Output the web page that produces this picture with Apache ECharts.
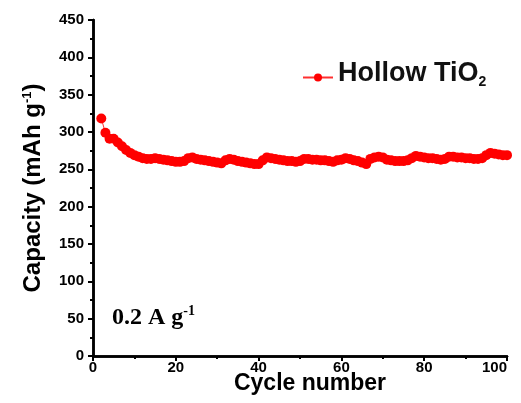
<!DOCTYPE html>
<html><head><meta charset="utf-8">
<script src="https://cdn.jsdelivr.net/npm/echarts@6/dist/echarts.min.js"></script>
<style>html,body{margin:0;padding:0;background:#fff}#c{width:521px;height:403px}</style>
</head><body><div id="c"></div>
<script>
const cycles = [2,3,4,5,6,7,8,9,10,11,12,13,14,15,16,17,18,19,20,21,22,23,24,25,26,27,28,29,30,31,32,33,34,35,36,37,38,39,40,41,42,43,44,45,46,47,48,49,50,51,52,53,54,55,56,57,58,59,60,61,62,63,64,65,66,67,68,69,70,71,72,73,74,75,76,77,78,79,80,81,82,83,84,85,86,87,88,89,90,91,92,93,94,95,96,97,98,99,100];
const capacity = [318,299,291,291,286,281,276,272,269,267,265,264,264,265,264,263,262,261,260,260,261,265,266,264,263,262,261,260,259,258,262,264,263,261,260,259,258,257,257,262,266,265,264,263,262,261,261,260,261,264,264,263,263,262,262,261,260,262,263,265,264,262,261,259,257,264,266,267,266,263,262,261,261,261,262,265,268,267,266,265,265,264,263,264,267,267,266,266,265,265,264,264,265,269,272,271,270,269,269];
const seriesName = 'Hollow TiO2';
const xMin = 0, xMax = 100, xStep = 20;
const yMin = 0, yMax = 450, yStep = 50;

const chart = echarts.init(document.getElementById('c'));
const AX = '#000';
const sans = 'Liberation Sans';
chart.setOption({
  animation: false,
  backgroundColor: '#fff',
  grid: {left: 93, right: 14, top: 20, bottom: 47, containLabel: false, outerBoundsMode: 'none'},
  legend: {
    left: 302, top: 60, padding: 0, itemWidth: 30, itemHeight: 10, itemGap: 5,
    data: [seriesName],
    formatter: () => '{a|Hollow TiO}{b|2}',
    textStyle: {
      rich: {
        a: {fontFamily: sans, fontWeight: 'bold', fontSize: 27, color: '#111', padding: [0,0,8,0]},
        b: {fontFamily: sans, fontWeight: 'bold', fontSize: 14, color: '#111', padding: [10,0,0,0]}
      }
    }
  },
  xAxis: [{
    type: 'value', min: xMin, max: xMax, interval: xStep, position: 'bottom',
    name: 'Cycle number', nameLocation: 'middle', nameGap: 16, nameMoveOverlap: false,
    nameTextStyle: {fontFamily: sans, fontWeight: 'bold', fontSize: 23, color: '#000', padding: [0,0,0,20]},
    axisLine: {lineStyle: {color: AX, width: 2.5}},
    axisTick: {inside: false, length: 5, lineStyle: {color: AX, width: 2}},
    minorTick: {show: true, splitNumber: 2, length: 3, lineStyle: {color: AX, width: 2}},
    axisLabel: {fontFamily: sans, fontWeight: 'bold', fontSize: 15, color: '#000', margin: 4, alignMaxLabel: 'right'},
    splitLine: {show: false}
  }, {
    type: 'value', min: xMin, max: xMax, position: 'top',
    axisLine: {show: true, lineStyle: {color: AX, width: 2.5}},
    axisTick: {show: false}, axisLabel: {show: false}, splitLine: {show: false}
  }],
  yAxis: [{
    type: 'value', min: yMin, max: yMax, interval: yStep, position: 'left',
    name: '{a|Capacity (mAh g}{s|-1}{a|)}', nameLocation: 'middle', nameGap: 47, nameMoveOverlap: false,
    nameTextStyle: {
      rich: {
        a: {fontFamily: sans, fontWeight: 'bold', fontSize: 24, color: '#000'},
        s: {fontFamily: sans, fontWeight: 'bold', fontSize: 13, color: '#000', padding: [0,0,12,0]}
      }
    },
    axisLine: {show: true, lineStyle: {color: AX, width: 2.5}},
    axisTick: {inside: false, length: 5, lineStyle: {color: AX, width: 2}},
    minorTick: {show: true, splitNumber: 2, length: 3, lineStyle: {color: AX, width: 2}},
    axisLabel: {fontFamily: sans, fontWeight: 'bold', fontSize: 15, color: '#000', margin: 9},
    splitLine: {show: false}
  }, {
    type: 'value', min: yMin, max: yMax, position: 'right',
    axisLine: {show: true, lineStyle: {color: AX, width: 2.5}},
    axisTick: {show: false}, axisLabel: {show: false}, splitLine: {show: false}
  }],
  graphic: [{
    type: 'text', left: 112, top: 304,
    style: {
      text: '{a|0.2 A g}{s|-1}',
      rich: {
        a: {fontFamily: 'Liberation Serif', fontWeight: 'bold', fontSize: 24, fill: '#000'},
        s: {fontFamily: 'Liberation Serif', fontWeight: 'bold', fontSize: 14, fill: '#000', padding: [0,0,13,0]}
      }
    }
  }],
  series: [{
    name: seriesName, type: 'line',
    data: cycles.map((c, i) => [c, capacity[i]]),
    symbol: 'circle', symbolSize: 10,
    itemStyle: {color: '#ff0000'},
    lineStyle: {color: '#ff3030', width: 1}
  }]
});
</script></body></html>
